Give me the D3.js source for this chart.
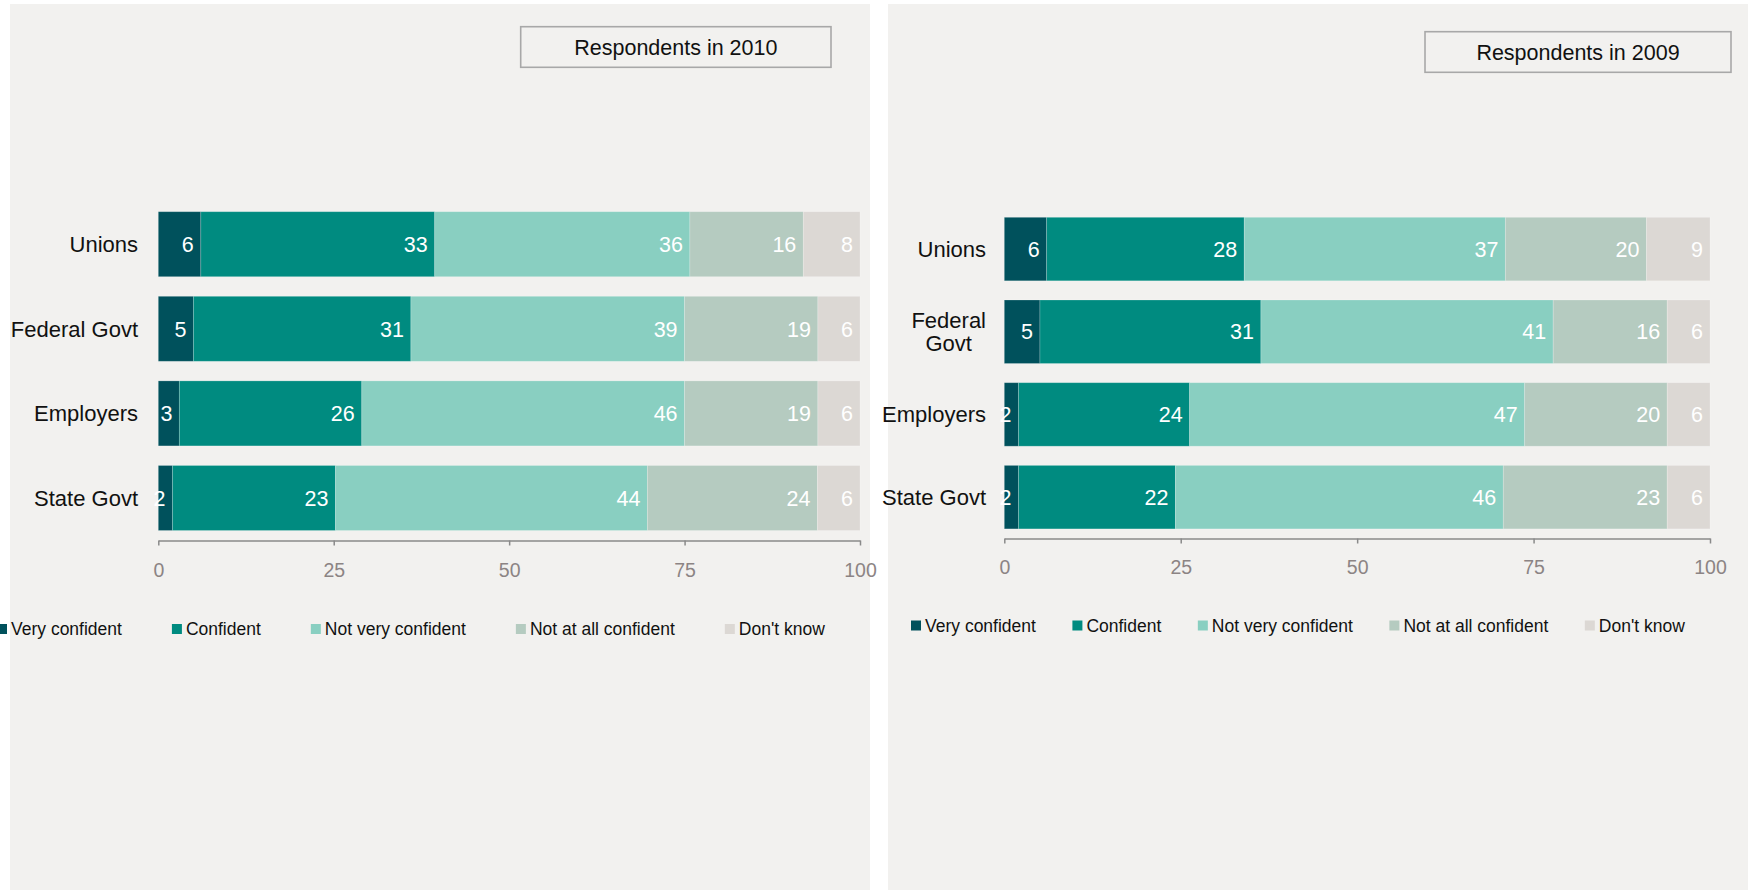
<!DOCTYPE html>
<html>
<head>
<meta charset="utf-8">
<script src="https://cdn.jsdelivr.net/npm/d3@7/dist/d3.min.js"></script>
<style>
  html, body { margin: 0; padding: 0; background: #ffffff; }
  svg { display: block; font-family: Arial, "Liberation Sans", sans-serif; }
</style>
</head>
<body>
<svg id="chart" width="1755" height="890"></svg>
<script>
// Institutions rated, top to bottom
const categories = ["Unions", "Federal Govt", "Employers", "State Govt"];
const seriesNames = ["Very confident", "Confident", "Not very confident", "Not at all confident", "Don't know"];

// 2010 respondents (%)
const veryConfident2010   = [6, 5, 3, 2];
const confident2010       = [33, 31, 26, 23];
const notVeryConfident2010 = [36, 39, 46, 44];
const notAtAllConfident2010 = [16, 19, 19, 24];
const dontKnow2010        = [8, 6, 6, 6];

// 2009 respondents (%)
const veryConfident2009   = [6, 5, 2, 2];
const confident2009       = [28, 31, 24, 22];
const notVeryConfident2009 = [37, 41, 47, 46];
const notAtAllConfident2009 = [20, 16, 20, 23];
const dontKnow2009        = [9, 6, 6, 6];

const tickValues = [0, 25, 50, 75, 100];

const colors = ["#00515c", "#008b80", "#89cfc1", "#b5cbc0", "#dcd8d4"];

function rows(series) {
  return categories.map((c, i) => {
    const r = { category: c };
    seriesNames.forEach((s, k) => { r[s] = series[k][i]; });
    return r;
  });
}

const panels = [
  {
    title: "Respondents in 2010",
    data: rows([veryConfident2010, confident2010, notVeryConfident2010, notAtAllConfident2010, dontKnow2010]),
    bg: [10, 4, 860, 886],
    box: [520.7, 26.7, 310.3, 40.6],
    x0: 158.3, x1: 860,
    barTop: 211.7, step: 84.6, barH: 65,
    axisY: 540.5, tickLabelY: 577,
    labelRight: 138, wrapWidth: Infinity,
    legendX: -3, legendY: 629, legendGap: 50
  },
  {
    title: "Respondents in 2009",
    data: rows([veryConfident2009, confident2009, notVeryConfident2009, notAtAllConfident2009, dontKnow2009]),
    bg: [888, 4, 860, 886],
    box: [1425, 31.7, 306, 40.6],
    x0: 1004.3, x1: 1710,
    barTop: 217.3, step: 82.7, barH: 63.5,
    axisY: 538.5, tickLabelY: 574,
    labelRight: 986, wrapWidth: 112,
    legendX: 911, legendY: 625.5, legendGap: 36.5
  }
];

const svg = d3.select("#chart");
const stack = d3.stack().keys(seriesNames).offset(d3.stackOffsetExpand);
const color = d3.scaleOrdinal().domain(seriesNames).range(colors);

panels.forEach(p => {
  const g = svg.append("g");

  // panel background
  g.append("rect")
    .attr("x", p.bg[0]).attr("y", p.bg[1])
    .attr("width", p.bg[2]).attr("height", p.bg[3])
    .attr("fill", "#f2f1ef");

  // title box
  g.append("rect")
    .attr("x", p.box[0]).attr("y", p.box[1])
    .attr("width", p.box[2]).attr("height", p.box[3])
    .attr("fill", "#f2f1ef")
    .attr("stroke", "#a8a8a8")
    .attr("stroke-width", 1.6);
  g.append("text")
    .attr("x", p.box[0] + p.box[2] / 2)
    .attr("y", p.box[1] + p.box[3] / 2)
    .attr("dy", "0.36em")
    .attr("text-anchor", "middle")
    .attr("font-size", 21.5)
    .attr("fill", "#111")
    .text(p.title);

  const x = d3.scaleLinear().domain([0, 100]).range([p.x0, p.x1]);
  const pad = (p.step - p.barH) / p.step;
  const y = d3.scaleBand()
    .domain(categories)
    .range([p.barTop - (p.step - p.barH) / 2, p.barTop - (p.step - p.barH) / 2 + categories.length * p.step])
    .paddingInner(pad)
    .paddingOuter(pad / 2);

  const stacked = stack(p.data);

  const layers = g.append("g").selectAll("g")
    .data(stacked)
    .join("g")
    .attr("fill", d => color(d.key));

  layers.selectAll("rect")
    .data(d => d.map(v => ({ key: d.key, v })))
    .join("rect")
    .attr("x", d => x(d.v[0] * 100))
    .attr("y", d => y(d.v.data.category))
    .attr("width", d => x(d.v[1] * 100) - x(d.v[0] * 100))
    .attr("height", y.bandwidth())
    .attr("stroke", "rgba(255,255,255,0.25)")
    .attr("stroke-width", 0.8);

  // value labels, right-aligned inside each segment
  layers.selectAll("text")
    .data(d => d.map(v => ({ key: d.key, v })))
    .join("text")
    .attr("x", d => x(d.v[1] * 100) - 7)
    .attr("y", d => y(d.v.data.category) + y.bandwidth() / 2)
    .attr("dy", "0.36em")
    .attr("text-anchor", "end")
    .attr("font-size", 21.5)
    .attr("fill", "#ffffff")
    .text(d => d.v.data[d.key]);

  // x axis
  const axis = g.append("g")
    .attr("transform", `translate(0,${p.axisY})`)
    .call(d3.axisBottom(x).tickValues(tickValues).tickSize(5).tickSizeOuter(0).tickPadding(0));
  axis.select(".domain").attr("stroke", "#8a8a8a").attr("stroke-width", 1.5);
  axis.selectAll(".tick line").attr("stroke", "#8a8a8a").attr("stroke-width", 1.5);
  axis.selectAll(".tick text")
    .attr("y", p.tickLabelY - p.axisY)
    .attr("dy", 0)
    .attr("font-size", 19.5)
    .attr("font-family", "Arial, 'Liberation Sans', sans-serif")
    .attr("fill", "#8c8484");

  // category labels; long ones wrap onto centred lines
  categories.forEach(c => {
    const cy = y(c) + y.bandwidth() / 2;
    const t = g.append("text")
      .attr("font-size", 22)
      .attr("fill", "#111")
      .attr("x", p.labelRight).attr("y", cy).attr("dy", "0.36em")
      .attr("text-anchor", "end").text(c);
    if (t.node().getComputedTextLength() > p.wrapWidth && c.includes(" ")) {
      t.text(null);
      const words = c.split(" ");
      const spans = words.map(w => t.append("tspan").text(w));
      const widths = spans.map(s => s.node().getComputedTextLength());
      const cx = p.labelRight - d3.max(widths) / 2;
      const lh = 23;
      spans.forEach((s, i) => {
        s.attr("x", cx)
          .attr("y", cy + (i - (words.length - 1) / 2) * lh)
          .attr("dy", "0.36em");
      });
      t.attr("text-anchor", "middle");
    }
  });

  // legend
  let lx = p.legendX;
  seriesNames.forEach(s => {
    const item = g.append("g");
    item.append("rect")
      .attr("x", lx).attr("y", p.legendY - 5)
      .attr("width", 10).attr("height", 10)
      .attr("fill", color(s));
    const t = item.append("text")
      .attr("x", lx + 14).attr("y", p.legendY)
      .attr("dy", "0.36em")
      .attr("font-size", 17.5)
      .attr("fill", "#111")
      .text(s);
    lx += 14 + t.node().getComputedTextLength() + p.legendGap;
  });
});
</script>
</body>
</html>
